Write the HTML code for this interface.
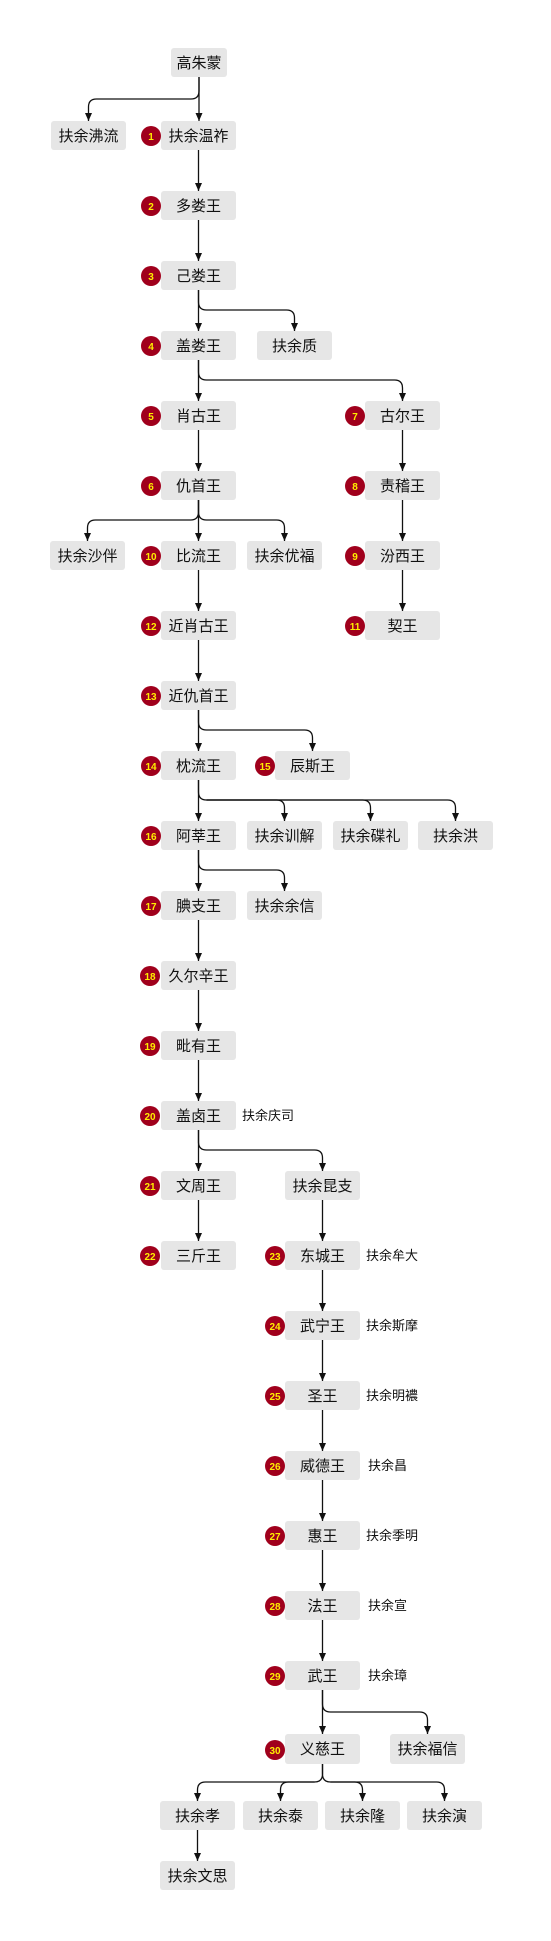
<!DOCTYPE html>
<html><head><meta charset="utf-8"><style>
html,body{margin:0;padding:0;background:#fff;}
svg{display:block;}
.b{fill:#e6e6e6;}
.t{font-family:"Liberation Sans","Noto Sans CJK SC",sans-serif;font-size:15px;fill:#111;text-anchor:middle;}
.s{font-family:"Liberation Sans","Noto Sans CJK SC",sans-serif;font-size:13px;fill:#111;}
.c{fill:#a0001c;}
.n{font-family:"Liberation Sans",sans-serif;font-size:10px;font-weight:bold;fill:#ffee00;text-anchor:middle;}
.e{fill:none;stroke:#111;stroke-width:1.3;}
.h{fill:#111;}
</style></head><body>
<svg width="551" height="1941" viewBox="0 0 551 1941" xmlns="http://www.w3.org/2000/svg">
<!-- edges -->
<g class="e">
<path d="M199 77 V121"/>
<path d="M199 77 V91 Q199 99 191 99 H96.5 Q88.5 99 88.5 107 V121"/>
<path d="M198.5 150 V191"/>
<path d="M198.5 220 V261"/>
<path d="M198.5 290 V331"/>
<path d="M198.5 290 V302 Q198.5 310 206.5 310 H286.5 Q294.5 310 294.5 318 V331"/>
<path d="M198.5 360 V401"/>
<path d="M198.5 360 V372 Q198.5 380 206.5 380 H394.5 Q402.5 380 402.5 388 V401"/>
<path d="M198.5 430 V471"/>
<path d="M402.5 430 V471"/>
<path d="M402.5 500 V541"/>
<path d="M402.5 570 V611"/>
<path d="M198.5 500 V541"/>
<path d="M198.5 500 V512 Q198.5 520 190.5 520 H95.5 Q87.5 520 87.5 528 V541"/>
<path d="M198.5 500 V512 Q198.5 520 206.5 520 H276.5 Q284.5 520 284.5 528 V541"/>
<path d="M198.5 570 V611"/>
<path d="M198.5 640 V681"/>
<path d="M198.5 710 V751"/>
<path d="M198.5 710 V722 Q198.5 730 206.5 730 H304.5 Q312.5 730 312.5 738 V751"/>
<path d="M198.5 780 V821"/>
<path d="M198.5 780 V792 Q198.5 800 206.5 800 H276.5 Q284.5 800 284.5 808 V821"/>
<path d="M206.5 800 H362.5 Q370.5 800 370.5 808 V821"/>
<path d="M206.5 800 H447.5 Q455.5 800 455.5 808 V821"/>
<path d="M198.5 850 V891"/>
<path d="M198.5 850 V862 Q198.5 870 206.5 870 H276.5 Q284.5 870 284.5 878 V891"/>
<path d="M198.5 920 V961"/>
<path d="M198.5 990 V1031"/>
<path d="M198.5 1060 V1101"/>
<path d="M198.5 1130 V1171"/>
<path d="M198.5 1130 V1142 Q198.5 1150 206.5 1150 H314.5 Q322.5 1150 322.5 1158 V1171"/>
<path d="M198.5 1200 V1241"/>
<path d="M322.5 1200 V1241"/>
<path d="M322.5 1270 V1311"/>
<path d="M322.5 1340 V1381"/>
<path d="M322.5 1410 V1451"/>
<path d="M322.5 1480 V1521"/>
<path d="M322.5 1550 V1591"/>
<path d="M322.5 1620 V1661"/>
<path d="M322.5 1690 V1734"/>
<path d="M322.5 1690 V1704 Q322.5 1712 330.5 1712 H419.5 Q427.5 1712 427.5 1720 V1734"/>
<path d="M322.5 1764 V1774 Q322.5 1782 314.5 1782 H205.5 Q197.5 1782 197.5 1790 V1801"/>
<path d="M314.5 1782 H288.5 Q280.5 1782 280.5 1790 V1801"/>
<path d="M322.5 1764 V1774 Q322.5 1782 330.5 1782 H354.5 Q362.5 1782 362.5 1790 V1801"/>
<path d="M330.5 1782 H436.5 Q444.5 1782 444.5 1790 V1801"/>
<path d="M197.5 1830 V1861"/>
</g>
<!-- arrowheads -->
<g class="h">
<polygon points="195.5,113 202.5,113 199,121"/>
<polygon points="85,113 92,113 88.5,121"/>
<polygon points="195,183 202,183 198.5,191"/>
<polygon points="195,253 202,253 198.5,261"/>
<polygon points="195,323 202,323 198.5,331"/>
<polygon points="291,323 298,323 294.5,331"/>
<polygon points="195,393 202,393 198.5,401"/>
<polygon points="399,393 406,393 402.5,401"/>
<polygon points="195,463 202,463 198.5,471"/>
<polygon points="399,463 406,463 402.5,471"/>
<polygon points="399,533 406,533 402.5,541"/>
<polygon points="399,603 406,603 402.5,611"/>
<polygon points="195,533 202,533 198.5,541"/>
<polygon points="84,533 91,533 87.5,541"/>
<polygon points="281,533 288,533 284.5,541"/>
<polygon points="195,603 202,603 198.5,611"/>
<polygon points="195,673 202,673 198.5,681"/>
<polygon points="195,743 202,743 198.5,751"/>
<polygon points="309,743 316,743 312.5,751"/>
<polygon points="195,813 202,813 198.5,821"/>
<polygon points="281,813 288,813 284.5,821"/>
<polygon points="367,813 374,813 370.5,821"/>
<polygon points="452,813 459,813 455.5,821"/>
<polygon points="195,883 202,883 198.5,891"/>
<polygon points="281,883 288,883 284.5,891"/>
<polygon points="195,953 202,953 198.5,961"/>
<polygon points="195,1023 202,1023 198.5,1031"/>
<polygon points="195,1093 202,1093 198.5,1101"/>
<polygon points="195,1163 202,1163 198.5,1171"/>
<polygon points="319,1163 326,1163 322.5,1171"/>
<polygon points="195,1233 202,1233 198.5,1241"/>
<polygon points="319,1233 326,1233 322.5,1241"/>
<polygon points="319,1303 326,1303 322.5,1311"/>
<polygon points="319,1373 326,1373 322.5,1381"/>
<polygon points="319,1443 326,1443 322.5,1451"/>
<polygon points="319,1513 326,1513 322.5,1521"/>
<polygon points="319,1583 326,1583 322.5,1591"/>
<polygon points="319,1653 326,1653 322.5,1661"/>
<polygon points="319,1726 326,1726 322.5,1734"/>
<polygon points="424,1726 431,1726 427.5,1734"/>
<polygon points="194,1793 201,1793 197.5,1801"/>
<polygon points="277,1793 284,1793 280.5,1801"/>
<polygon points="359,1793 366,1793 362.5,1801"/>
<polygon points="441,1793 448,1793 444.5,1801"/>
<polygon points="194,1853 201,1853 197.5,1861"/>
</g>
<!-- boxes -->
<g>
<rect class="b" x="171" y="48" width="56" height="29" rx="3"/><text class="t" x="199" y="68">高朱蒙</text>
<rect class="b" x="51" y="121" width="75" height="29" rx="3"/><text class="t" x="88.5" y="141">扶余沸流</text>
<rect class="b" x="161" y="121" width="75" height="29" rx="3"/><text class="t" x="198.5" y="141">扶余温祚</text>
<rect class="b" x="161" y="191" width="75" height="29" rx="3"/><text class="t" x="198.5" y="211">多娄王</text>
<rect class="b" x="161" y="261" width="75" height="29" rx="3"/><text class="t" x="198.5" y="281">己娄王</text>
<rect class="b" x="161" y="331" width="75" height="29" rx="3"/><text class="t" x="198.5" y="351">盖娄王</text>
<rect class="b" x="257" y="331" width="75" height="29" rx="3"/><text class="t" x="294.5" y="351">扶余质</text>
<rect class="b" x="161" y="401" width="75" height="29" rx="3"/><text class="t" x="198.5" y="421">肖古王</text>
<rect class="b" x="365" y="401" width="75" height="29" rx="3"/><text class="t" x="402.5" y="421">古尔王</text>
<rect class="b" x="161" y="471" width="75" height="29" rx="3"/><text class="t" x="198.5" y="491">仇首王</text>
<rect class="b" x="365" y="471" width="75" height="29" rx="3"/><text class="t" x="402.5" y="491">责稽王</text>
<rect class="b" x="50" y="541" width="75" height="29" rx="3"/><text class="t" x="87.5" y="561">扶余沙伴</text>
<rect class="b" x="161" y="541" width="75" height="29" rx="3"/><text class="t" x="198.5" y="561">比流王</text>
<rect class="b" x="247" y="541" width="75" height="29" rx="3"/><text class="t" x="284.5" y="561">扶余优福</text>
<rect class="b" x="365" y="541" width="75" height="29" rx="3"/><text class="t" x="402.5" y="561">汾西王</text>
<rect class="b" x="161" y="611" width="75" height="29" rx="3"/><text class="t" x="198.5" y="631">近肖古王</text>
<rect class="b" x="365" y="611" width="75" height="29" rx="3"/><text class="t" x="402.5" y="631">契王</text>
<rect class="b" x="161" y="681" width="75" height="29" rx="3"/><text class="t" x="198.5" y="701">近仇首王</text>
<rect class="b" x="161" y="751" width="75" height="29" rx="3"/><text class="t" x="198.5" y="771">枕流王</text>
<rect class="b" x="275" y="751" width="75" height="29" rx="3"/><text class="t" x="312.5" y="771">辰斯王</text>
<rect class="b" x="161" y="821" width="75" height="29" rx="3"/><text class="t" x="198.5" y="841">阿莘王</text>
<rect class="b" x="247" y="821" width="75" height="29" rx="3"/><text class="t" x="284.5" y="841">扶余训解</text>
<rect class="b" x="333" y="821" width="75" height="29" rx="3"/><text class="t" x="370.5" y="841">扶余碟礼</text>
<rect class="b" x="418" y="821" width="75" height="29" rx="3"/><text class="t" x="455.5" y="841">扶余洪</text>
<rect class="b" x="161" y="891" width="75" height="29" rx="3"/><text class="t" x="198.5" y="911">腆支王</text>
<rect class="b" x="247" y="891" width="75" height="29" rx="3"/><text class="t" x="284.5" y="911">扶余余信</text>
<rect class="b" x="161" y="961" width="75" height="29" rx="3"/><text class="t" x="198.5" y="981">久尔辛王</text>
<rect class="b" x="161" y="1031" width="75" height="29" rx="3"/><text class="t" x="198.5" y="1051">毗有王</text>
<rect class="b" x="161" y="1101" width="75" height="29" rx="3"/><text class="t" x="198.5" y="1121">盖卤王</text>
<rect class="b" x="161" y="1171" width="75" height="29" rx="3"/><text class="t" x="198.5" y="1191">文周王</text>
<rect class="b" x="285" y="1171" width="75" height="29" rx="3"/><text class="t" x="322.5" y="1191">扶余昆支</text>
<rect class="b" x="161" y="1241" width="75" height="29" rx="3"/><text class="t" x="198.5" y="1261">三斤王</text>
<rect class="b" x="285" y="1241" width="75" height="29" rx="3"/><text class="t" x="322.5" y="1261">东城王</text>
<rect class="b" x="285" y="1311" width="75" height="29" rx="3"/><text class="t" x="322.5" y="1331">武宁王</text>
<rect class="b" x="285" y="1381" width="75" height="29" rx="3"/><text class="t" x="322.5" y="1401">圣王</text>
<rect class="b" x="285" y="1451" width="75" height="29" rx="3"/><text class="t" x="322.5" y="1471">威德王</text>
<rect class="b" x="285" y="1521" width="75" height="29" rx="3"/><text class="t" x="322.5" y="1541">惠王</text>
<rect class="b" x="285" y="1591" width="75" height="29" rx="3"/><text class="t" x="322.5" y="1611">法王</text>
<rect class="b" x="285" y="1661" width="75" height="29" rx="3"/><text class="t" x="322.5" y="1681">武王</text>
<rect class="b" x="285" y="1734" width="75" height="30" rx="3"/><text class="t" x="322.5" y="1754">义慈王</text>
<rect class="b" x="390" y="1734" width="75" height="30" rx="3"/><text class="t" x="427.5" y="1754">扶余福信</text>
<rect class="b" x="160" y="1801" width="75" height="29" rx="3"/><text class="t" x="197.5" y="1821">扶余孝</text>
<rect class="b" x="243" y="1801" width="75" height="29" rx="3"/><text class="t" x="280.5" y="1821">扶余泰</text>
<rect class="b" x="325" y="1801" width="75" height="29" rx="3"/><text class="t" x="362.5" y="1821">扶余隆</text>
<rect class="b" x="407" y="1801" width="75" height="29" rx="3"/><text class="t" x="444.5" y="1821">扶余演</text>
<rect class="b" x="160" y="1861" width="75" height="29" rx="3"/><text class="t" x="197.5" y="1881">扶余文思</text>
</g>
<!-- side labels -->
<g>
<text class="s" x="242" y="1120">扶余庆司</text>
<text class="s" x="366" y="1260">扶余牟大</text>
<text class="s" x="366" y="1330">扶余斯摩</text>
<text class="s" x="366" y="1400">扶余明襛</text>
<text class="s" x="368" y="1470">扶余昌</text>
<text class="s" x="366" y="1540">扶余季明</text>
<text class="s" x="368" y="1610">扶余宣</text>
<text class="s" x="368" y="1680">扶余璋</text>
</g>
<!-- badges -->
<g>
<circle class="c" cx="151" cy="136" r="10"/><text class="n" x="151" y="140">1</text>
<circle class="c" cx="151" cy="206" r="10"/><text class="n" x="151" y="210">2</text>
<circle class="c" cx="151" cy="276" r="10"/><text class="n" x="151" y="280">3</text>
<circle class="c" cx="151" cy="346" r="10"/><text class="n" x="151" y="350">4</text>
<circle class="c" cx="151" cy="416" r="10"/><text class="n" x="151" y="420">5</text>
<circle class="c" cx="151" cy="486" r="10"/><text class="n" x="151" y="490">6</text>
<circle class="c" cx="355" cy="416" r="10"/><text class="n" x="355" y="420">7</text>
<circle class="c" cx="355" cy="486" r="10"/><text class="n" x="355" y="490">8</text>
<circle class="c" cx="355" cy="556" r="10"/><text class="n" x="355" y="560">9</text>
<circle class="c" cx="151" cy="556" r="10"/><text class="n" x="151" y="560">10</text>
<circle class="c" cx="355" cy="626" r="10"/><text class="n" x="355" y="630">11</text>
<circle class="c" cx="151" cy="626" r="10"/><text class="n" x="151" y="630">12</text>
<circle class="c" cx="151" cy="696" r="10"/><text class="n" x="151" y="700">13</text>
<circle class="c" cx="151" cy="766" r="10"/><text class="n" x="151" y="770">14</text>
<circle class="c" cx="265" cy="766" r="10"/><text class="n" x="265" y="770">15</text>
<circle class="c" cx="151" cy="836" r="10"/><text class="n" x="151" y="840">16</text>
<circle class="c" cx="151" cy="906" r="10"/><text class="n" x="151" y="910">17</text>
<circle class="c" cx="150" cy="976" r="10"/><text class="n" x="150" y="980">18</text>
<circle class="c" cx="150" cy="1046" r="10"/><text class="n" x="150" y="1050">19</text>
<circle class="c" cx="150" cy="1116" r="10"/><text class="n" x="150" y="1120">20</text>
<circle class="c" cx="150" cy="1186" r="10"/><text class="n" x="150" y="1190">21</text>
<circle class="c" cx="150" cy="1256" r="10"/><text class="n" x="150" y="1260">22</text>
<circle class="c" cx="275" cy="1256" r="10"/><text class="n" x="275" y="1260">23</text>
<circle class="c" cx="275" cy="1326" r="10"/><text class="n" x="275" y="1330">24</text>
<circle class="c" cx="275" cy="1396" r="10"/><text class="n" x="275" y="1400">25</text>
<circle class="c" cx="275" cy="1466" r="10"/><text class="n" x="275" y="1470">26</text>
<circle class="c" cx="275" cy="1536" r="10"/><text class="n" x="275" y="1540">27</text>
<circle class="c" cx="275" cy="1606" r="10"/><text class="n" x="275" y="1610">28</text>
<circle class="c" cx="275" cy="1676" r="10"/><text class="n" x="275" y="1680">29</text>
<circle class="c" cx="275" cy="1750" r="10"/><text class="n" x="275" y="1754">30</text>
</g>
</svg>
</body></html>
